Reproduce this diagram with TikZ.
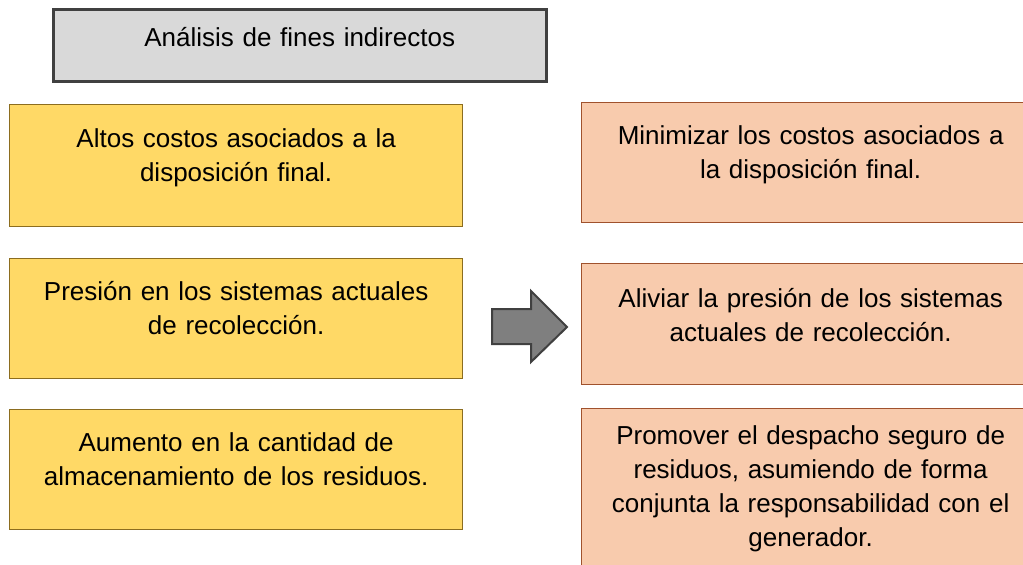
\documentclass[tikz,border=0pt]{standalone}
\usepackage{fontspec}
\setmainfont{Liberation Sans}
\definecolor{titlefill}{HTML}{D9D9D9}
\definecolor{titleline}{HTML}{404040}
\definecolor{causefill}{HTML}{FFD966}
\definecolor{causeline}{HTML}{8C6D1F}
\definecolor{finfill}{HTML}{F8CBAD}
\definecolor{finline}{HTML}{A0522D}
\definecolor{arrowfill}{HTML}{7F7F7F}
\definecolor{arrowline}{HTML}{404040}
\begin{document}
\begin{tikzpicture}[x=1pt, y=-1pt,
  every node/.style={font=\fontsize{26}{34}\selectfont, align=center, inner sep=0pt, anchor=north west},
  boxtitle/.style={draw=titleline, line width=2.5pt, fill=titlefill, text width=493pt},
  cause/.style={draw=causeline, line width=1.3pt, fill=causefill, text width=453pt},
  fin/.style={draw=finline, line width=1.3pt, fill=finfill, text width=458pt}]
  \useasboundingbox (0,0) rectangle (1023,565);
  \clip (0,0) rectangle (1023,565);

  % heading
  \node[boxtitle, text height=37pt, text depth=35pt] (titulo) at (52,8) {Análisis de fines indirectos};

  % left column
  \node[cause, text height=43pt, text depth=79pt] (causa1) at (9,104)
    {Altos costos asociados a la\\disposición final.};
  \node[cause, text height=42pt, text depth=78pt] (causa2) at (9,258)
    {Presión en los sistemas actuales\\de recolección.};
  \node[cause, text height=42pt, text depth=78pt] (causa3) at (9,409)
    {Aumento en la cantidad de\\almacenamiento de los residuos.};

  % right column
  \node[fin, text height=42pt, text depth=78pt] (fin1) at (581,102)
    {Minimizar los costos asociados a\\la disposición final.};
  \node[fin, text height=44pt, text depth=77pt] (fin2) at (581,263)
    {Aliviar la presión de los sistemas\\actuales de recolección.};
  \node[fin, text height=36pt, text depth=129pt] (fin3) at (581,408)
    {Promover el despacho seguro de\\residuos, asumiendo de forma\\conjunta la responsabilidad con el\\generador.};

  % block arrow
  \draw[draw=arrowline, fill=arrowfill, line width=2pt] (492,309) -- (531,309) -- (531,291)
    -- (567,327) -- (531,362) -- (531,344) -- (492,344) -- cycle;
\end{tikzpicture}
\end{document}
